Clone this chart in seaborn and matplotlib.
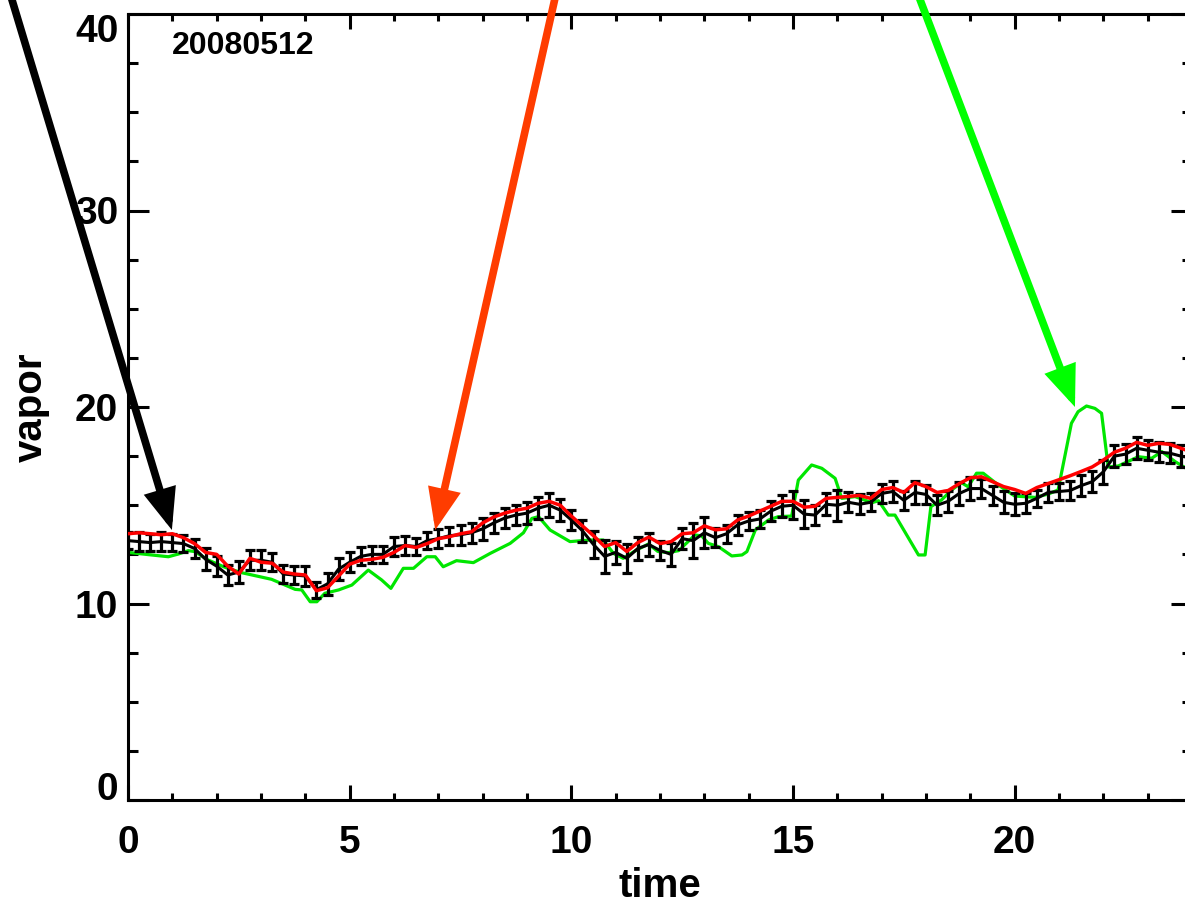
import numpy as np
import pandas as pd
import matplotlib
matplotlib.use("Agg")
import matplotlib.pyplot as plt
from matplotlib.ticker import MultipleLocator
import seaborn as sns

# ---------------- data ----------------
times = np.linspace(0, 24, 97)

obs_vapor = [13.2, 13.15, 13.1, 13.15, 13.1, 13.05, 12.8, 12.25, 11.9,
             11.45, 11.6, 12.2, 12.2, 12.1, 11.5, 11.45, 11.4,
             10.7, 11.0, 11.75, 12.1, 12.4, 12.5, 12.5, 12.9,
             12.95, 12.9, 13.2, 13.3, 13.45, 13.5, 13.6, 13.8,
             14.1, 14.35, 14.5, 14.6, 14.85, 15.0, 14.75, 14.25,
             13.7, 13.0, 12.4, 12.6, 12.3, 12.8, 13.0, 12.7,
             12.5, 13.3, 13.2, 13.6, 13.35, 13.55, 14.0, 14.2,
             14.3, 14.7, 14.95, 15.0, 14.55, 14.5, 15.05, 15.0,
             15.15, 15.05, 15.15, 15.6, 15.7, 15.25, 15.65, 15.55,
             15.0, 15.2, 15.6, 15.85, 15.85, 15.5, 15.15, 15.05,
             15.1, 15.35, 15.65, 15.7, 15.75, 16.0, 16.2, 16.7,
             17.5, 17.6, 17.9, 17.8, 17.7, 17.65, 17.5, 17.4]

obs_error = [0.45, 0.5, 0.45, 0.5, 0.45, 0.45, 0.5, 0.55, 0.5,
             0.5, 0.55, 0.5, 0.5, 0.45, 0.45, 0.45, 0.5,
             0.4, 0.55, 0.55, 0.5, 0.45, 0.45, 0.45, 0.5,
             0.5, 0.45, 0.45, 0.5, 0.45, 0.5, 0.5, 0.55,
             0.5, 0.5, 0.5, 0.55, 0.55, 0.6, 0.55, 0.5,
             0.55, 0.7, 0.85, 0.6, 0.75, 0.6, 0.6, 0.5,
             0.6, 0.55, 0.9, 0.8, 0.5, 0.45, 0.5, 0.45,
             0.45, 0.5, 0.55, 0.7, 0.7, 0.5, 0.55, 0.8,
             0.5, 0.5, 0.45, 0.5, 0.55, 0.5, 0.6, 0.5,
             0.5, 0.55, 0.6, 0.6, 0.5, 0.5, 0.55, 0.55,
             0.5, 0.45, 0.5, 0.45, 0.5, 0.55, 0.55, 0.6,
             0.55, 0.5, 0.55, 0.5, 0.5, 0.5, 0.55, 0.5]

red_vapor = [13.55, 13.6, 13.55, 13.5, 13.55, 13.35, 13.05, 12.6, 12.5,
             11.9, 11.5, 12.3, 12.1, 12.05, 11.6, 11.5, 11.45,
             10.65, 10.8, 11.4, 12.0, 12.2, 12.25, 12.35, 12.6,
             12.95, 12.85, 13.05, 13.3, 13.4, 13.55, 13.65, 14.1,
             14.4, 14.6, 14.75, 14.85, 15.1, 15.2, 15.0, 14.45,
             13.95, 13.45, 12.9, 13.1, 12.65, 13.1, 13.38, 13.05,
             13.15, 13.55, 13.6, 13.95, 13.75, 13.8, 14.25, 14.45,
             14.7, 14.95, 15.2, 15.2, 14.9, 14.95, 15.35, 15.4,
             15.45, 15.5, 15.35, 15.8, 15.9, 15.65, 16.15, 15.95,
             15.65, 15.75, 16.1, 16.4, 16.45, 16.2, 15.95, 15.8,
             15.6, 15.9, 16.1, 16.3, 16.5, 16.72, 16.95, 17.3,
             17.7, 17.9, 18.2, 18.05, 18.15, 18.1, 17.9, 17.7]

green_times = [0.0, 0.53, 0.91, 1.14, 1.36, 1.51, 1.81, 2.19, 2.56, 3.24,
               3.77, 3.92, 4.11, 4.26, 4.44, 4.75, 5.05, 5.42, 5.72, 5.93,
               6.21, 6.44, 6.74, 6.93, 7.11, 7.41, 7.79, 8.17, 8.62, 8.92,
               9.11, 9.26, 9.52, 9.97, 10.42, 10.72, 10.95, 11.17, 11.47, 11.74,
               11.95, 12.19, 12.42, 12.79, 12.94, 13.09, 13.32, 13.62, 13.85, 13.96,
               14.15, 14.45, 14.67, 14.97, 15.12, 15.42, 15.65, 15.95, 16.1, 16.4,
               16.78, 16.93, 17.15, 17.3, 17.83, 17.98, 18.11, 18.35, 18.58, 18.8,
               18.95, 19.14, 19.29, 19.63, 20.0, 20.46, 20.76, 20.98, 21.28, 21.43,
               21.62, 21.81, 21.96, 22.11, 22.34, 22.79, 23.09, 23.32, 23.62, 24.0]
green_vapor = [12.6, 12.47, 12.38, 12.52, 12.69, 12.64, 12.21, 11.84, 11.57, 11.23,
               10.72, 10.69, 10.09, 10.09, 10.52, 10.69, 10.94, 11.7, 11.2, 10.77,
               11.79, 11.79, 12.38, 12.38, 11.87, 12.18, 12.08, 12.55, 13.06, 13.6,
               14.33, 14.42, 13.74, 13.15, 13.23, 13.23, 12.55, 12.3, 12.72, 13.03,
               12.65, 12.59, 12.69, 13.49, 13.44, 13.06, 12.89, 12.42, 12.47, 12.64,
               13.74, 14.25, 14.42, 14.45, 16.28, 17.05, 16.88, 16.37, 15.35, 15.44,
               15.13, 15.23, 14.5, 14.5, 12.47, 12.47, 14.93, 15.27, 15.78, 16.15,
               15.94, 16.63, 16.63, 16.03, 15.47, 15.4, 15.57, 15.78, 19.17, 19.76,
               20.05, 19.93, 19.68, 16.95, 17.0, 17.47, 17.39, 17.73, 17.22, 16.7]

date_label = "20080512"
x_ticks = [0, 5, 10, 15, 20]
y_ticks = [0, 10, 20, 30, 40]

# arrows: (tip time, tip vapor, tail time, tail vapor, colour)
arrows = [(0.99, 13.74, -3.59, 48.0, "#000000"),
          (6.93, 13.74, 10.35, 48.0, "#FF3C00"),
          (21.36, 20.0, 16.64, 48.0, "#00FF00")]

# ---------------- style ----------------
sns.set_theme(style="ticks")
plt.rcParams["font.family"] = ["Liberation Sans", "DejaVu Sans"]
plt.rcParams["font.weight"] = "bold"
plt.rcParams["axes.labelweight"] = "bold"
plt.rcParams["font.size"] = 28
plt.rcParams["axes.linewidth"] = 2.2
plt.rcParams["text.color"] = "black"
plt.rcParams["axes.labelcolor"] = "black"
plt.rcParams["xtick.color"] = "black"
plt.rcParams["ytick.color"] = "black"
plt.rcParams["axes.edgecolor"] = "black"

fig = plt.figure(figsize=(11.85, 9.01), dpi=100)
ax = fig.add_axes([128 / 1185, 101 / 901, 1064 / 1185, 786 / 901])

obs_df = pd.DataFrame({"time": times, "vapor": obs_vapor, "err": obs_error})
red_df = pd.DataFrame({"time": times, "vapor": red_vapor})
green_df = pd.DataFrame({"time": green_times, "vapor": green_vapor})

sns.lineplot(data=green_df, x="time", y="vapor", color="#00E600", lw=2.3, ax=ax,
             sort=False, zorder=2)
sns.lineplot(data=obs_df, x="time", y="vapor", color="black", lw=2.2, ax=ax,
             sort=False, zorder=3)
ax.errorbar(obs_df["time"], obs_df["vapor"], yerr=obs_df["err"], fmt="none",
            ecolor="black", elinewidth=2.3, capsize=3.5, capthick=2.3, zorder=3)
sns.lineplot(data=red_df, x="time", y="vapor", color="#FF0000", lw=2.5, ax=ax,
             sort=False, zorder=4)

for tx, ty, sx, sy, col in arrows:
    ax.annotate("", xy=(tx, ty), xytext=(sx, sy),
                arrowprops=dict(arrowstyle="-|>,head_length=0.5,head_width=0.2",
                                mutation_scale=40, lw=5.5, color=col,
                                shrinkA=0, shrinkB=0, joinstyle="miter"),
                annotation_clip=False, zorder=6)

ax.text(0.99, 37.95, date_label, fontsize=23, fontweight="bold",
        ha="left", va="baseline", color="black")

ax.set_xlim(0, 24)
ax.set_ylim(0, 40)
ax.set_xticks(x_ticks)
ax.set_yticks(y_ticks)
ax.xaxis.set_minor_locator(MultipleLocator(1))
ax.yaxis.set_minor_locator(MultipleLocator(2.5))

ax.tick_params(which="both", direction="in", top=True, right=True,
               width=2.2, color="black", labelcolor="black", labelsize=28)
ax.tick_params(axis="x", which="major", length=10.8, pad=18)
ax.tick_params(axis="x", which="minor", length=5)
ax.tick_params(axis="y", which="major", length=15, pad=7)
ax.tick_params(axis="y", which="minor", length=7.2)

for s in ax.spines.values():
    s.set_visible(True)
    s.set_linewidth(2.2)
    s.set_color("black")

ax.set_xlabel("time", fontsize=29, fontweight="bold", labelpad=4, color="black")
ax.set_ylabel("vapor", fontsize=29, fontweight="bold", labelpad=18, color="black")

yt = ax.yaxis.get_major_ticks()
yt[0].label1.set_va("baseline")
yt[-1].label1.set_va("top")

fig.savefig("out.png", dpi=100)
